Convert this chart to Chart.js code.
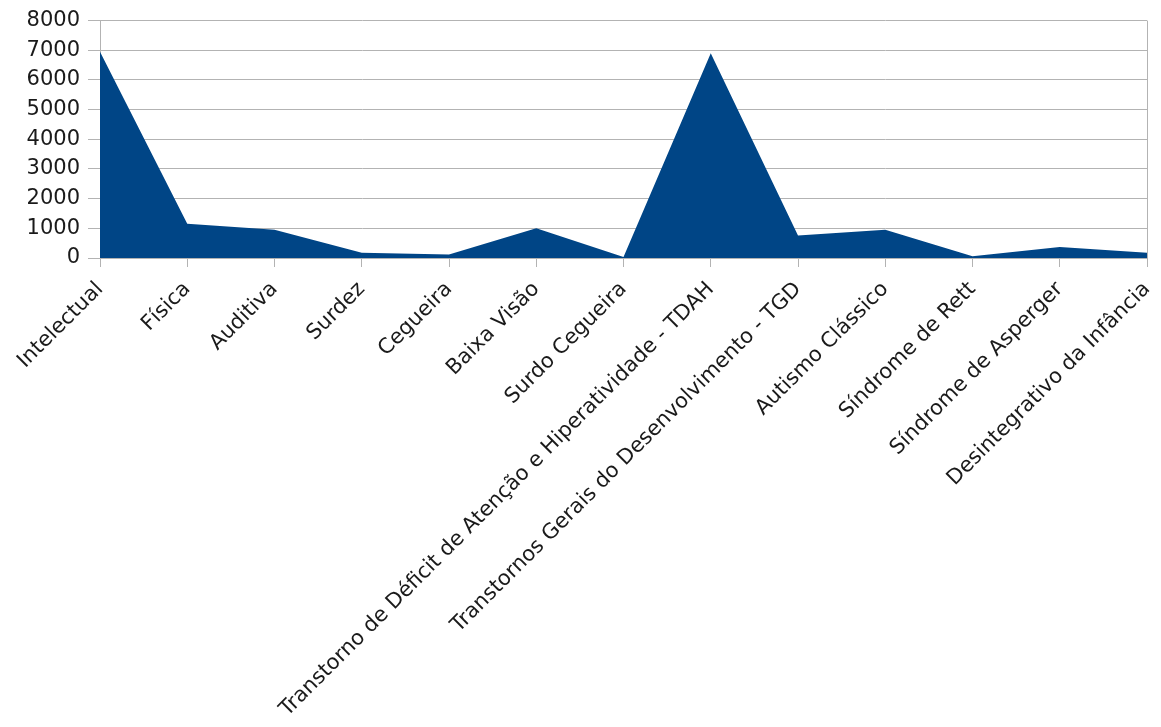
<!DOCTYPE html>
<html lang="pt">
<head>
  <meta charset="UTF-8" />
  <title>Deficiências</title>
  <script src="https://cdn.jsdelivr.net/npm/chart.js"></script>
  <style>
    html, body {
      margin: 0;
      padding: 0;
      background: #ffffff;
    }
    .chart-box {
      width: 1161px;
      height: 727px;
    }
  </style>
</head>
<body>
  <div class="chart-box">
    <canvas id="areaChart"></canvas>
  </div>

  <script>
    const categories = [
      'Intelectual', 'Física', 'Auditiva', 'Surdez', 'Cegueira', 'Baixa Visão',
      'Surdo Cegueira', 'Transtorno de Déficit de Atenção e Hiperatividade - TDAH',
      'Transtornos Gerais do Desenvolvimento - TGD', 'Autismo Clássico',
      'Síndrome de Rett', 'Síndrome de Asperger', 'Desintegrativo da Infância'
    ];
    const values = [6950, 1150, 950, 180, 120, 1000, 30, 6900, 760, 950, 60, 370, 180];
    const yTicks = [0, 1000, 2000, 3000, 4000, 5000, 6000, 7000, 8000];

    const gridGray = '#b3b3b3';
    const lastIndex = categories.length - 1;

    new Chart(document.getElementById('areaChart'), {
      type: 'line',
      data: {
        labels: categories,
        datasets: [{
          data: values,
          fill: 'origin',
          backgroundColor: '#004586',
          borderColor: '#004586',
          borderWidth: 0,
          pointRadius: 0,
          tension: 0
        }]
      },
      options: {
        responsive: true,
        maintainAspectRatio: false,
        animation: false,
        layout: { padding: { top: 6, right: 14, left: 0, bottom: 0 } },
        plugins: {
          legend: { display: false },
          tooltip: { enabled: false }
        },
        scales: {
          x: {
            offset: false,
            afterFit: (scale) => {
              scale.height = 469;
              scale.paddingLeft = 0;
              scale.paddingRight = 14;
            },
            border: { color: gridGray, width: 1 },
            grid: {
              // only the right edge gets a full-height line
              color: (ctx) => ctx.index === lastIndex ? gridGray : 'rgba(0,0,0,0)',
              tickColor: gridGray,
              tickLength: 9,
              lineWidth: 1
            },
            ticks: {
              autoSkip: false,
              maxRotation: 45,
              minRotation: 45,
              padding: 10,
              color: '#1a1a1a',
              font: { family: 'DejaVu Sans', size: 21 }
            }
          },
          y: {
            min: 0,
            max: 8000,
            afterFit: (scale) => { scale.width = 100; },
            afterBuildTicks: (scale) => { scale.ticks = yTicks.map(v => ({ value: v })); },
            border: { color: gridGray, width: 1 },
            grid: {
              color: gridGray,
              tickColor: gridGray,
              tickLength: 12,
              lineWidth: 1
            },
            ticks: {
              padding: 8,
              color: '#1a1a1a',
              font: { family: 'DejaVu Sans', size: 21 },
              callback: (v) => String(v)
            }
          }
        }
      }
    });
  </script>
</body>
</html>
